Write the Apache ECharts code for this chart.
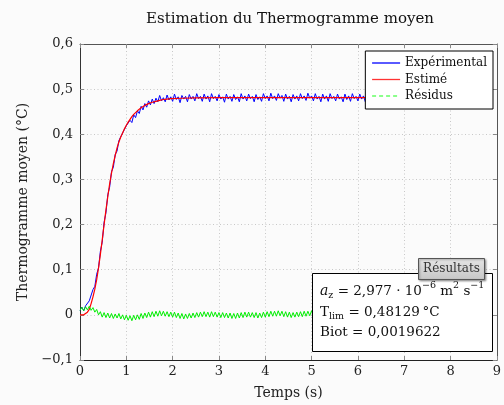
<!DOCTYPE html>
<html><head><meta charset="utf-8">
<script src="https://cdn.jsdelivr.net/npm/echarts@6/dist/echarts.min.js"></script>
<style>html,body{margin:0;padding:0;background:#fbfbfb}#c{width:504px;height:405px}</style>
</head><body><div id="c"></div><script>
// Sampling step of the recorded signal (s)
const sampleStep = 0.04;

// Experimental thermogram (°C), one value per sample
const experimental = [
0.010,0.017,0.009,0.020,0.017,0.031,0.035,0.056,0.063,0.090,
0.104,0.141,0.161,0.205,0.226,0.266,0.283,0.317,0.327,0.355,
0.363,0.386,0.385,0.403,0.401,0.419,0.415,0.431,0.426,0.443,
0.437,0.452,0.446,0.462,0.454,0.468,0.460,0.474,0.465,0.478,
0.468,0.480,0.472,0.486,0.474,0.481,0.472,0.487,0.476,0.483,
0.473,0.489,0.477,0.483,0.470,0.486,0.478,0.484,0.472,0.488,
0.478,0.484,0.474,0.490,0.479,0.484,0.473,0.489,0.478,0.485,
0.472,0.490,0.479,0.484,0.474,0.488,0.478,0.483,0.471,0.489,
0.478,0.484,0.473,0.488,0.477,0.483,0.472,0.490,0.478,0.485,
0.474,0.489,0.479,0.484,0.472,0.488,0.477,0.483,0.473,0.490,
0.479,0.485,0.474,0.491,0.479,0.485,0.475,0.490,0.480,0.486,
0.473,0.489,0.478,0.484,0.472,0.488,0.478,0.485,0.474,0.490,
0.479,0.485,0.475,0.491,0.480,0.485,0.474,0.490,0.478,0.484,
0.472,0.489,0.478,0.485,0.473,0.490,0.479,0.484,0.474,0.489,
0.478,0.483,0.472,0.489,0.477,0.485,0.473,0.490,0.479,0.484,
0.474,0.489,0.478,0.485,0.472,0.490,0.479,0.484,0.474,0.489,
0.478,0.484,0.473,0.490,0.479,0.485,0.474,0.489,0.478,0.484,
0.473,0.490,0.479,0.485,0.474,0.489
];

// Residuals (°C), one value per sample
const residuals = [
0.010,0.017,0.009,0.018,0.011,0.019,0.010,0.016,0.006,0.012,
0.000,0.007,-0.005,0.005,-0.006,0.004,-0.007,0.003,-0.008,0.002,
-0.007,0.003,-0.009,0.000,-0.011,-0.001,-0.012,-0.002,-0.013,-0.001,
-0.011,0.000,-0.010,0.003,-0.008,0.004,-0.006,0.006,-0.005,0.007,
-0.004,0.008,-0.003,0.009,-0.002,0.008,-0.003,0.007,-0.004,0.006,
-0.005,0.006,-0.006,0.004,-0.008,0.003,-0.009,0.002,-0.008,0.003,
-0.007,0.004,-0.006,0.005,-0.005,0.006,-0.004,0.007,-0.004,0.006,
-0.005,0.007,-0.004,0.006,-0.005,0.005,-0.006,0.005,-0.006,0.004,
-0.007,0.004,-0.008,0.003,-0.008,0.004,-0.007,0.005,-0.006,0.006,
-0.005,0.006,-0.005,0.005,-0.006,0.005,-0.007,0.004,-0.006,0.006,
-0.005,0.007,-0.004,0.008,-0.003,0.008,-0.003,0.009,-0.002,0.008,
-0.004,0.007,-0.005,0.006,-0.006,0.005,-0.005,0.006,-0.004,0.007,
-0.004,0.008,-0.003,0.008,-0.002,0.009,-0.003,0.007,-0.004,0.006,
-0.005,0.007,-0.004,0.008,-0.003,0.006,-0.005,0.007,-0.004,0.006,
-0.006,0.005,-0.005,0.007,-0.004,0.008,-0.003,0.007,-0.005,0.006,
-0.004,0.007,-0.003,0.008,-0.004,0.006,-0.005,0.007,-0.004,0.006,
-0.005,0.007,-0.004,0.006,-0.005,0.007,-0.004,0.006,-0.005,0.007,
-0.004,0.006,-0.005,0.007,-0.004,0.006
];

// Estimated thermogram: times (s) and values (°C)
const estTimes = [0,0.04,0.08,0.12,0.16,0.2,0.24,0.28,0.32,0.36,0.4,0.44,0.48,0.52,0.56,0.6,0.64,0.68,0.72,0.76,0.8,0.84,0.88,0.92,0.96,1,1.04,1.08,1.12,1.16,1.2,1.24,1.28,1.32,1.36,1.4,1.44,1.48,1.52,1.56,1.6,1.64,1.68,1.72,1.76,1.8,1.84,1.88,1.92,1.96,2,2.2,2.5,3,4,5,7];
const estValues = [0,0,0,0.002,0.006,0.012,0.025,0.04,0.057,0.078,0.104,0.134,0.166,0.2,0.232,0.262,0.29,0.314,0.335,0.353,0.37,0.383,0.394,0.403,0.412,0.42,0.427,0.433,0.439,0.444,0.448,0.452,0.456,0.459,0.462,0.464,0.466,0.468,0.47,0.471,0.472,0.473,0.474,0.475,0.476,0.477,0.477,0.478,0.478,0.479,0.479,0.4798,0.4805,0.481,0.4812,0.4813,0.4813];

const seriesNames = ['Expérimental', 'Estimé', 'Résidus'];
const titleText = 'Estimation du Thermogramme moyen';
const xName = 'Temps (s)';
const yName = 'Thermogramme moyen (°C)';

const FONT = 'DejaVu Serif';
const chart = echarts.init(document.getElementById('c'), null, {renderer: 'canvas'});

const expData = experimental.map((v, i) => [i * sampleStep, v]);
const resData = residuals.map((v, i) => [i * sampleStep, v]);
const estData = estTimes.map((t, i) => [t, estValues[i]]);

function fmt(v) {
  if (Math.abs(v) < 1e-9) return '0';
  return (Math.round(v * 10) / 10).toFixed(1).replace('.', ',').replace('-', '\u2212');
}

const tick = {show: true, inside: true, length: 4, lineStyle: {color: '#888'}};
const hidden = 'rgba(0,0,0,0)';

chart.setOption({
  backgroundColor: '#fbfbfb',
  animation: false,
  grid: {left: 80, right: 4, top: 44, bottom: 45, containLabel: false},
  xAxis: [{
    type: 'value', min: 0, max: 9, interval: 1, position: 'bottom',
    axisLine: {show: true, onZero: false, lineStyle: {color: '#222', width: 1}},
    axisTick: tick,
    axisLabel: {color: '#222', fontFamily: FONT, fontSize: 13, margin: 5},
    splitLine: {show: true, lineStyle: {color: '#c8c8c8', type: [1, 2.5], width: 1}},
    name: xName, nameLocation: 'middle', nameGap: 26,
    nameTextStyle: {color: '#222', fontFamily: FONT, fontSize: 14}
  }, {
    type: 'value', min: 0, max: 9, interval: 1, position: 'top',
    axisLine: {show: true, onZero: false, lineStyle: {color: '#555', width: 1}},
    axisTick: tick, axisLabel: {show: false}, splitLine: {show: false}
  }],
  yAxis: [{
    type: 'value', min: -0.1, max: 0.6, interval: 0.1, position: 'left',
    axisLine: {show: true, onZero: false, lineStyle: {color: '#333', width: 1}},
    axisTick: tick,
    axisLabel: {color: '#222', fontFamily: FONT, fontSize: 13, margin: 7, formatter: fmt},
    splitLine: {show: true, lineStyle: {color: '#c8c8c8', type: [1, 2.5], width: 1}},
    name: yName, nameLocation: 'middle', nameGap: 50,
    nameTextStyle: {color: '#222', fontFamily: FONT, fontSize: 14}
  }, {
    type: 'value', min: -0.1, max: 0.6, interval: 0.1, position: 'right',
    axisLine: {show: true, onZero: false, lineStyle: {color: '#555', width: 1}},
    axisTick: tick, axisLabel: {show: false}, splitLine: {show: false}
  }],
  legend: {
    orient: 'vertical', right: 11, top: 51,
    padding: [6, 6, 7, 6], itemGap: 4.5, itemWidth: 28, itemHeight: 14,
    backgroundColor: '#ffffff', borderColor: '#000', borderWidth: 1, borderRadius: 0,
    textStyle: {fontFamily: FONT, fontSize: 12, color: '#111'},
    itemStyle: {color: hidden, borderColor: hidden, borderWidth: 0, opacity: 0},
    data: [
      {name: seriesNames[0], lineStyle: {color: '#0000ff', width: 1.3}},
      {name: seriesNames[1], lineStyle: {color: '#ff3333', width: 1.3}},
      {name: seriesNames[2], lineStyle: {type: [4, 3], color: '#66ff66', width: 1.5}}
    ]
  },
  series: [
    {name: seriesNames[0], type: 'line', data: expData, symbol: 'none', showSymbol: false,
     lineStyle: {color: '#0000ff', width: 1}, itemStyle: {color: '#0000ff'}, z: 2},
    {name: seriesNames[1], type: 'line', data: estData, symbol: 'none', showSymbol: false,
     lineStyle: {color: '#ff0000', width: 1.2}, itemStyle: {color: '#ff0000'}, z: 3},
    {name: seriesNames[2], type: 'line', data: resData, symbol: 'none', showSymbol: false,
     lineStyle: {color: '#00ee00', width: 1}, itemStyle: {color: '#33ff33'}, z: 4}
  ],
  graphic: [
    {type: 'text', x: 290, y: 19, z: 10,
     style: {text: titleText, align: 'center', verticalAlign: 'middle',
             font: '15px "DejaVu Serif"', fill: '#111'}},
    {type: 'rect', z: 100, shape: {x: 312.5, y: 273.5, width: 180, height: 78},
     style: {fill: '#fff', stroke: '#000', lineWidth: 1}},
    {type: 'text', z: 101, x: 320, y: 281,
     style: {
       text: '{it|a}{sub|z}{n| = 2,977 · 10}{sup|\u22126}{n| m}{sup|2}{n| s}{sup|\u22121}',
       verticalAlign: 'top',
       rich: {
         n: {fontFamily: FONT, fontSize: 13.5, lineHeight: 20, fill: '#111'},
         it: {fontFamily: FONT, fontSize: 14, fontStyle: 'italic', lineHeight: 20, fill: '#111'},
         sub: {fontFamily: FONT, fontSize: 9.5, lineHeight: 10, verticalAlign: 'bottom', fill: '#111'},
         sup: {fontFamily: FONT, fontSize: 9.5, lineHeight: 10, verticalAlign: 'top', fill: '#111'}
       }
     }},
    {type: 'text', z: 101, x: 320, y: 302,
     style: {
       text: '{n|T}{sub|lim}{n| = 0,48129\u2009°C}',
       verticalAlign: 'top',
       rich: {
         n: {fontFamily: FONT, fontSize: 13.5, lineHeight: 20, fill: '#111'},
         sub: {fontFamily: FONT, fontSize: 9.5, lineHeight: 10, verticalAlign: 'bottom', fill: '#111'}
       }
     }},
    {type: 'text', z: 101, x: 320, y: 322,
     style: {text: 'Biot = 0,0019622', verticalAlign: 'top',
             font: '13.5px "DejaVu Serif"', fill: '#111', lineHeight: 20}},
    {type: 'rect', z: 102, shape: {x: 418.5, y: 258.5, width: 66, height: 21},
     style: {
       fill: new echarts.graphic.LinearGradient(0, 0, 0, 1, [
         {offset: 0, color: '#e6e6e6'}, {offset: 1, color: '#c6c6c6'}]),
       stroke: '#555', lineWidth: 1,
       shadowBlur: 2, shadowColor: 'rgba(0,0,0,0.35)', shadowOffsetX: 1, shadowOffsetY: 1
     }},
    {type: 'text', z: 103, x: 451.5, y: 269,
     style: {text: 'Résultats', align: 'center', verticalAlign: 'middle',
             font: '12px "DejaVu Serif"', fill: '#333'}}
  ]
});
</script></body></html>
